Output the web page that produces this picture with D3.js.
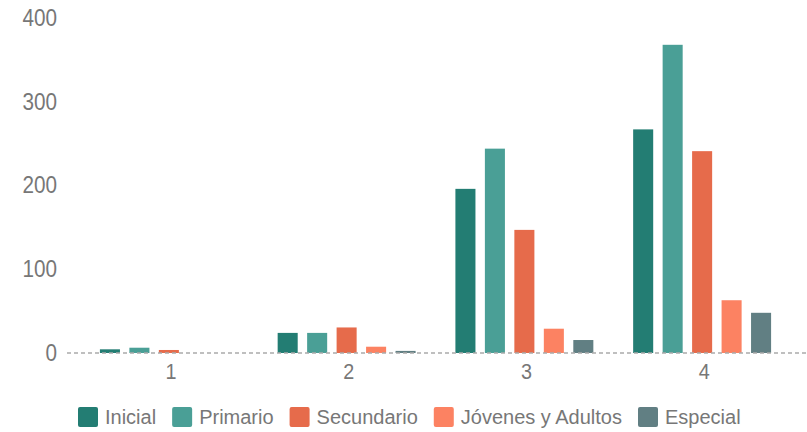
<!DOCTYPE html>
<html>
<head>
<meta charset="utf-8">
<script src="https://cdn.jsdelivr.net/npm/d3@7"></script>
<style>
  body { margin: 0; background: #fff; }
  text { font-family: "Liberation Sans", Arial, sans-serif; fill: #777; }
</style>
</head>
<body>
<div id="chart"></div>
<script>
// Data
const groups = ["1", "2", "3", "4"];
const series = ["Inicial", "Primario", "Secundario", "Jóvenes y Adultos", "Especial"];
const colors = ["#237d73", "#4a9f96", "#e66b4b", "#fc8262", "#617f83"];
const inicial = [4.4, 24, 196, 267];
const primario = [6.3, 24, 244, 368];
const secundario = [3.6, 30.5, 147, 241];
const jovenes = [0, 7.5, 29, 63];
const especial = [0, 2.5, 15.5, 48];
const yTicks = [0, 100, 200, 300, 400];

const values = [inicial, primario, secundario, jovenes, especial];
const width = 807, height = 432;
const squeeze = 0.9; // axis digits in the reference are horizontally narrow

const svg = d3.select("#chart").append("svg")
    .attr("width", width).attr("height", height);

const x0 = d3.scaleBand().domain(groups).range([80, 791])
    .paddingInner(0.224).paddingOuter(0.112);
const x1 = d3.scaleBand().domain(series).range([0, x0.bandwidth()])
    .paddingInner(0.32).paddingOuter(0);
const y = d3.scaleLinear().domain([0, 400]).range([353, 18]);

// Y axis labels
const yAxis = svg.append("g")
    .attr("transform", "translate(57,0)")
    .call(d3.axisLeft(y).tickValues(yTicks).tickSize(0).tickPadding(0));
yAxis.select(".domain").remove();
yAxis.selectAll("text")
    .attr("x", 0)
    .style("font-size", "23px")
    .attr("fill", null)
    .attr("transform", `scale(${squeeze},1)`);

// Bars
const rows = groups.map((g, i) => ({ group: g, vals: series.map((s, j) => ({ s, j, v: values[j][i] })) }));
svg.append("g")
    .selectAll("g")
    .data(rows)
    .join("g")
    .attr("transform", d => `translate(${x0(d.group)},0)`)
    .selectAll("rect")
    .data(d => d.vals.filter(e => e.v > 0))
    .join("rect")
    .attr("x", d => x1(d.s))
    .attr("width", x1.bandwidth())
    .attr("y", d => y(d.v))
    .attr("height", d => y(0) - y(d.v))
    .attr("fill", d => colors[d.j]);

// Dashed baseline
svg.append("line")
    .attr("x1", 67).attr("x2", width)
    .attr("y1", y(0)).attr("y2", y(0))
    .attr("stroke", "#aaa")
    .attr("stroke-width", 1.3)
    .attr("stroke-dasharray", "4,3");

// X axis labels
const xAxis = svg.append("g")
    .attr("transform", `translate(2,${y(0) + 10})`)
    .call(d3.axisBottom(x0).tickSize(0).tickPadding(0));
xAxis.select(".domain").remove();
xAxis.selectAll("text")
    .attr("fill", null)
    .attr("dy", "0.71em")
    .style("font-size", "22px")
    .attr("transform", `scale(${squeeze},1)`);

// Legend
const legend = svg.append("g").attr("transform", "translate(78,407)");
let lx = 0;
series.forEach((s, i) => {
    const item = legend.append("g").attr("transform", `translate(${lx},0)`);
    item.append("rect")
        .attr("width", 20).attr("height", 20)
        .attr("rx", 2)
        .attr("fill", colors[i]);
    const t = item.append("text")
        .attr("x", 27)
        .attr("y", 10)
        .attr("dy", "0.36em")
        .style("font-size", "20px")
        .text(s);
    lx += 27 + t.node().getComputedTextLength() + 16;
});
</script>
</body>
</html>
